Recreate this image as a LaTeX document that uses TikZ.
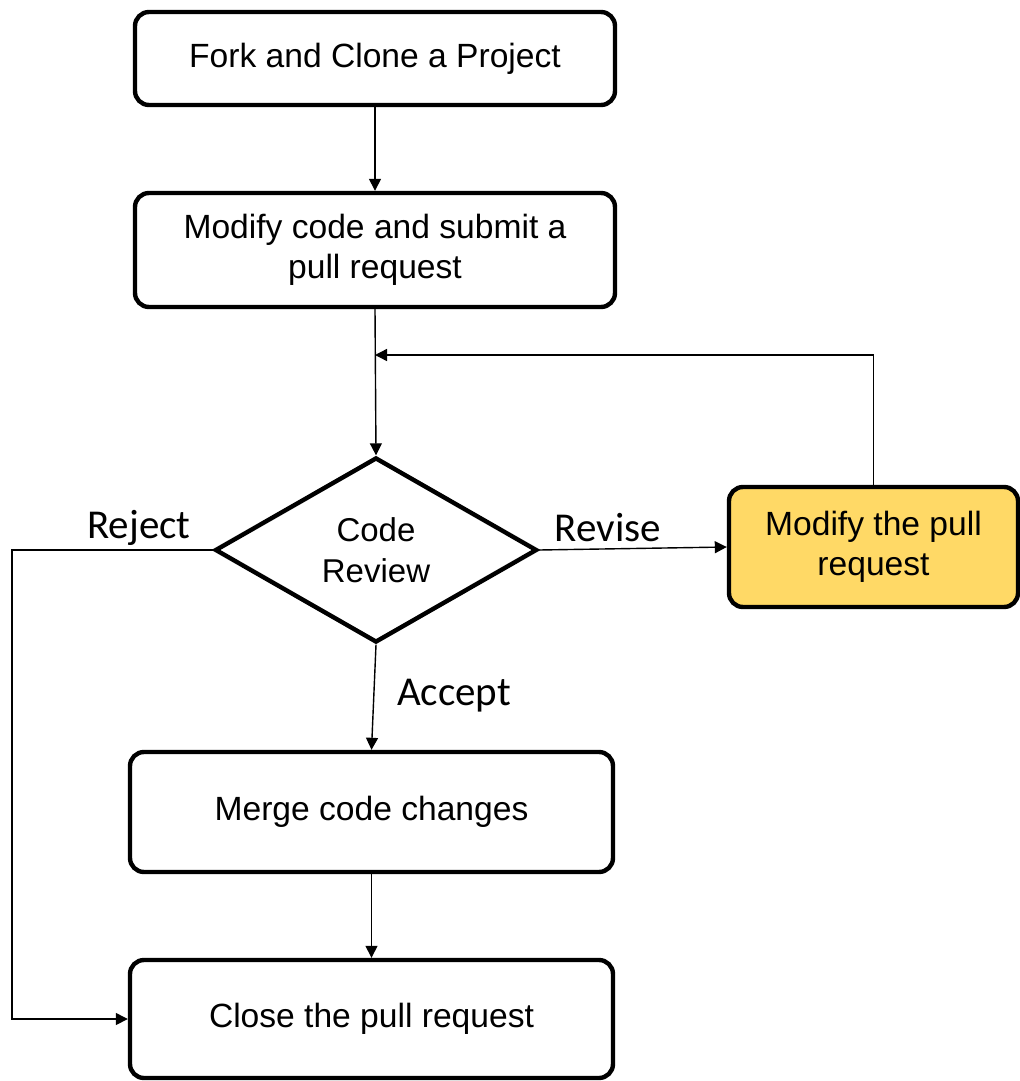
\documentclass[tikz,border=0pt]{standalone}
\usepackage{fontspec}
\setmainfont{Liberation Sans}
\newfontfamily\edgefont{Carlito}
\usetikzlibrary{shapes.geometric,arrows.meta}
\definecolor{stepyellow}{HTML}{FFD966}
\begin{document}
\begin{tikzpicture}[x=0.5pt,y=-0.5pt,
  stepbox/.style={draw=black,line width=2.2pt,rounded corners=7pt,align=center,
    font=\fontsize{16.8}{20}\selectfont,inner sep=0pt},
  decision/.style={draw=black,line width=2.2pt,shape=diamond,aspect=1.74,
    minimum width=161pt,minimum height=92.5pt,inner sep=0pt,align=center,
    font=\fontsize{16.5}{20.5}\selectfont},
  arr/.style={line width=0.7pt,-{Triangle[length=6pt,width=6pt]}},
  edgelabel/.style={font=\edgefont\fontsize{20.5}{24}\selectfont}]
\useasboundingbox (0,0) rectangle (1020,1081);
\node[stepbox,minimum width=240pt,minimum height=46.5pt] (fork) at (375,58.5) {Fork and Clone a Project};
\node[stepbox,minimum width=240pt,minimum height=57pt] (submit) at (375,250) {Modify code and submit a\\pull request};
\node[decision] (review) at (376,550) {Code\\Review};
\node[stepbox,fill=stepyellow,minimum width=144.5pt,minimum height=60pt] (modify) at (873.5,547) {Modify the pull\\request};
\node[stepbox,minimum width=241.5pt,minimum height=60pt] (merge) at (371.5,812) {Merge code changes};
\node[stepbox,minimum width=241.5pt,minimum height=59pt] (close) at (371.5,1019) {Close the pull request};
\coordinate (loopin) at (375,355);
\coordinate (rejcorner) at (12,550);
\draw[arr] (fork.south) -- (submit.north);
\draw[arr] (submit.south) -- (review.north);
\draw[arr] (modify.north) |- (loopin);
\draw[arr] (review.east) -- (modify.west);
\draw[arr] (review.south) -- (merge.north);
\draw[arr] (merge.south) -- (close.north);
\draw[arr] (review.west) -- (rejcorner) |- (close.west);
\node[edgelabel] (lreject) at (139,528) {Reject};
\node[edgelabel] (lrevise) at (608,528) {Revise};
\node[edgelabel] (laccept) at (454,696) {Accept};
\end{tikzpicture}
\end{document}
